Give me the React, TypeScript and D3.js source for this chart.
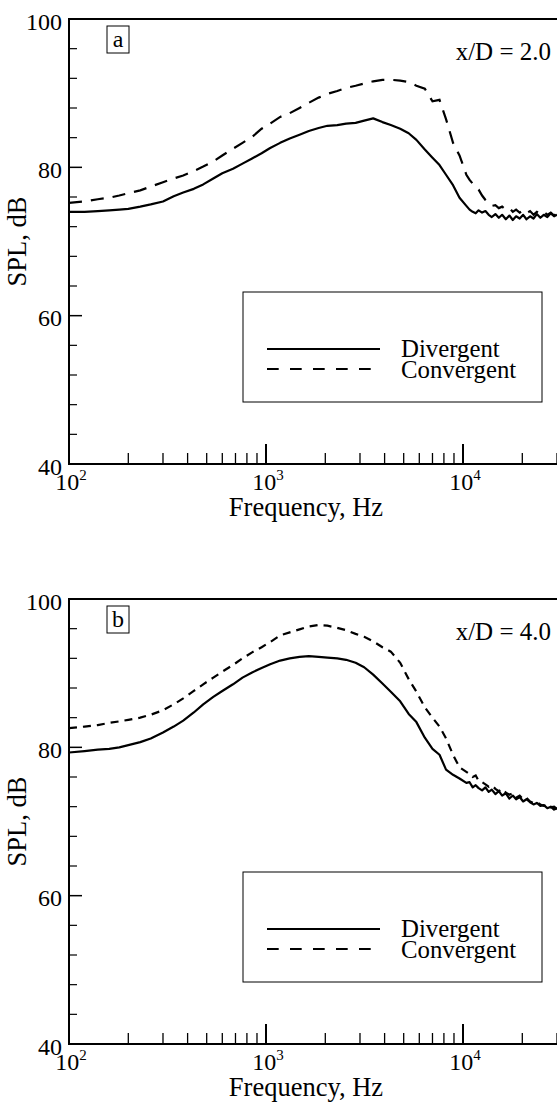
import React from "react";
import * as d3 from "d3";

const FREQ = [100, 120, 140, 160, 180, 200, 230, 260, 300, 340, 380, 430, 480, 540, 600, 680, 760, 850, 950, 1050, 1180, 1320, 1480, 1650, 1850, 2050, 2300, 2550, 2850, 3150, 3500, 3900, 4300, 4800, 5300, 5800, 6400, 7000, 7600, 8200, 8900, 9600, 10400, 10800, 11200, 11600, 12000, 12500, 13000, 13500, 14000, 14600, 15200, 15800, 16500, 17200, 17900, 18600, 19400, 20200, 21000, 21900, 22800, 23700, 24700, 25700, 26800, 27900, 29000, 30000];

const DIV_A = [74.0, 74.0, 74.1, 74.2, 74.3, 74.4, 74.7, 75.0, 75.4, 76.1, 76.6, 77.1, 77.7, 78.5, 79.2, 79.8, 80.5, 81.2, 81.9, 82.6, 83.3, 83.9, 84.4, 84.9, 85.3, 85.6, 85.7, 85.9, 86.0, 86.3, 86.6, 86.1, 85.7, 85.2, 84.6, 83.7, 82.4, 81.3, 80.3, 79.0, 77.6, 75.9, 74.8, 74.3, 74.0, 73.8, 74.2, 73.9, 74.1, 73.6, 73.3, 73.7, 73.2, 73.6, 73.0, 73.5, 72.9, 73.4, 73.1, 73.6, 73.0, 73.4, 73.1, 73.7, 73.2, 73.6, 73.3, 73.8, 73.4, 73.6];

const CONV_A = [75.2, 75.4, 75.7, 75.9, 76.2, 76.5, 76.9, 77.4, 78.0, 78.5, 78.9, 79.5, 80.1, 80.8, 81.6, 82.5, 83.3, 84.1, 85.2, 85.9, 86.8, 87.3, 88.0, 88.7, 89.4, 89.9, 90.3, 90.7, 91.0, 91.3, 91.6, 91.8, 91.8, 91.7, 91.5, 91.0, 90.6, 88.9, 89.1, 86.5, 83.3, 81.6, 79.0, 78.3, 77.8, 77.3, 77.0, 76.2, 75.6, 75.1, 74.8, 74.9, 74.5, 74.7, 74.3, 74.5, 74.0, 74.3, 73.9, 74.2, 73.8, 74.1, 73.6, 74.0, 73.7, 74.0, 73.6, 73.9, 73.5, 73.8];

const DIV_B = [79.3, 79.5, 79.7, 79.8, 80.0, 80.3, 80.7, 81.2, 82.0, 82.8, 83.6, 84.7, 85.8, 86.8, 87.6, 88.5, 89.4, 90.1, 90.7, 91.2, 91.7, 92.0, 92.2, 92.3, 92.2, 92.1, 92.0, 91.8, 91.4, 90.8, 89.8, 88.6, 87.5, 86.2, 84.5, 83.4, 81.3, 79.8, 79.0, 77.0, 76.3, 75.8, 75.2, 75.3, 74.6, 74.9, 74.5, 74.2, 74.6, 74.0, 74.3, 73.7, 74.1, 73.5, 73.8, 73.1, 73.5, 73.0, 73.3, 72.7, 73.0, 72.6, 72.3, 72.5, 72.1, 72.2, 71.8, 72.0, 71.6, 71.8];

const CONV_B = [82.6, 82.8, 83.0, 83.3, 83.5, 83.7, 84.0, 84.4, 85.0, 85.8, 86.6, 87.6, 88.5, 89.4, 90.2, 91.1, 92.0, 92.8, 93.5, 94.2, 95.1, 95.5, 95.9, 96.3, 96.5, 96.4, 96.1, 95.8, 95.3, 94.9, 94.3, 93.5, 92.9, 91.4, 89.2, 87.5, 85.4, 84.0, 82.8, 81.2, 79.0, 77.3, 76.7, 76.4, 76.0, 76.2, 75.5, 75.3, 75.0, 74.7, 74.9, 74.4, 74.1, 74.4, 73.9, 73.6, 73.8, 73.2, 73.5, 73.0, 73.2, 72.7, 72.5, 72.6, 72.3, 72.1, 72.3, 71.9, 72.0, 71.7];

const Y_TICKS = [40, 60, 80, 100];
const X_DECADE_EXPONENTS = [2, 3, 4];
const PANEL_LETTERS = ["a", "b"];
const POSITION_LABELS = ["x/D = 2.0", "x/D = 4.0"];
const SERIES_NAMES = ["Divergent", "Convergent"];

const FONT = "'Liberation Serif', 'Times New Roman', serif";
const LEFT = 69;
const DECADE = 197;
const PLOT_H = 445;

function Panel({ top, div, conv, letter, pos, dash }: any) {
  const bottom = top + PLOT_H;
  const x = d3.scaleLog().domain([100, Math.pow(10, 4.5)]).range([LEFT, LEFT + 2.5 * DECADE]);
  const y = d3.scaleLinear().domain([40, 100]).range([bottom, top]);
  const line = d3
    .line<number>()
    .x((_, i) => x(FREQ[i]))
    .y((d) => y(d));
  const clipId = "clip-" + letter;
  const majorX = X_DECADE_EXPONENTS.map((e) => Math.pow(10, e));
  const minorX: number[] = [];
  [100, 1000, 10000].forEach((dec) => {
    for (let m = 2; m <= 9; m++) if (dec * m <= 30000) minorX.push(dec * m);
  });
  const minorY = d3.range(40, 101, 4).filter((v) => !Y_TICKS.includes(v));
  const right = x(Math.pow(10, 4.5));
  return (
    <g>
      <defs>
        <clipPath id={clipId}>
          <rect x={LEFT} y={top} width={right - LEFT} height={PLOT_H} />
        </clipPath>
      </defs>
      <g clipPath={`url(#${clipId})`}>
        <path d={line(div) || ""} fill="none" stroke="#000" strokeWidth={2.2} strokeLinejoin="round" />
        <path d={line(conv) || ""} fill="none" stroke="#000" strokeWidth={2.2} strokeDasharray={dash} />
      </g>
      <line x1={LEFT} x2={right} y1={top} y2={top} stroke="#000" strokeWidth={2} />
      <line x1={LEFT} x2={right} y1={bottom} y2={bottom} stroke="#000" strokeWidth={2} />
      <line x1={LEFT} x2={LEFT} y1={top - 1} y2={bottom + 1} stroke="#000" strokeWidth={2} />
      <line x1={right} x2={right} y1={top} y2={bottom} stroke="#000" strokeWidth={2} />
      {majorX.map((v) => (
        <line key={"mx" + v} x1={x(v)} x2={x(v)} y1={bottom} y2={bottom - 20} stroke="#000" strokeWidth={2} />
      ))}
      {minorX.map((v) => (
        <line key={"nx" + v} x1={x(v)} x2={x(v)} y1={bottom} y2={bottom - 11} stroke="#000" strokeWidth={1.3} />
      ))}
      {Y_TICKS.map((v) => (
        <line key={"my" + v} x1={LEFT} x2={LEFT + 13} y1={y(v)} y2={y(v)} stroke="#000" strokeWidth={1.5} />
      ))}
      {minorY.map((v) => (
        <line key={"ny" + v} x1={LEFT} x2={LEFT + 8} y1={y(v)} y2={y(v)} stroke="#000" strokeWidth={1.2} />
      ))}
      {Y_TICKS.map((v) => (
        <text key={"ly" + v} x={62} y={y(v) + 10.5} textAnchor="end" fontSize={24} fontFamily={FONT}>
          {v}
        </text>
      ))}
      {X_DECADE_EXPONENTS.map((e) => (
        <text key={"lx" + e} x={x(Math.pow(10, e)) + 2} y={bottom + 26} textAnchor="middle" fontSize={24} fontFamily={FONT}>
          10
          <tspan fontSize={15} dy={-10}>
            {e}
          </tspan>
        </text>
      ))}
      <text x={306} y={bottom + 52} textAnchor="middle" fontSize={26.5} fontFamily={FONT}>
        Frequency, Hz
      </text>
      <text
        transform={`translate(26, ${(top + bottom) / 2}) rotate(-90)`}
        textAnchor="middle"
        fontSize={26.5}
        fontFamily={FONT}
      >
        SPL, dB
      </text>
      <rect x={107} y={top + 7} width={22} height={27} fill="#fff" stroke="#000" strokeWidth={1} />
      <text x={118} y={top + 28} textAnchor="middle" fontSize={24} fontFamily={FONT}>
        {letter}
      </text>
      <text x={551} y={top + 41} textAnchor="end" fontSize={25} fontFamily={FONT}>
        {pos}
      </text>
      <rect x={243} y={top + 273} width={299} height={110} fill="#fff" stroke="#000" strokeWidth={1} />
      <line x1={267} x2={380} y1={top + 330} y2={top + 330} stroke="#000" strokeWidth={2} />
      <line x1={267} x2={380} y1={top + 350} y2={top + 350} stroke="#000" strokeWidth={2} strokeDasharray="11.7,11.3" />
      <text x={401} y={top + 338} fontSize={24.8} fontFamily={FONT}>
        {SERIES_NAMES[0]}
      </text>
      <text x={401} y={top + 359} fontSize={24.8} fontFamily={FONT}>
        {SERIES_NAMES[1]}
      </text>
    </g>
  );
}

export default function App() {
  return (
    <svg
      width={557}
      height={1106}
      style={{ position: "absolute", left: 0, top: 0, background: "#fff" }}
    >
      <rect width={557} height={1106} fill="#fff" />
      <Panel top={19} div={DIV_A} conv={CONV_A} letter={PANEL_LETTERS[0]} pos={POSITION_LABELS[0]} dash="13,9" />
      <Panel top={599} div={DIV_B} conv={CONV_B} letter={PANEL_LETTERS[1]} pos={POSITION_LABELS[1]} dash="8,6" />
    </svg>
  );
}
